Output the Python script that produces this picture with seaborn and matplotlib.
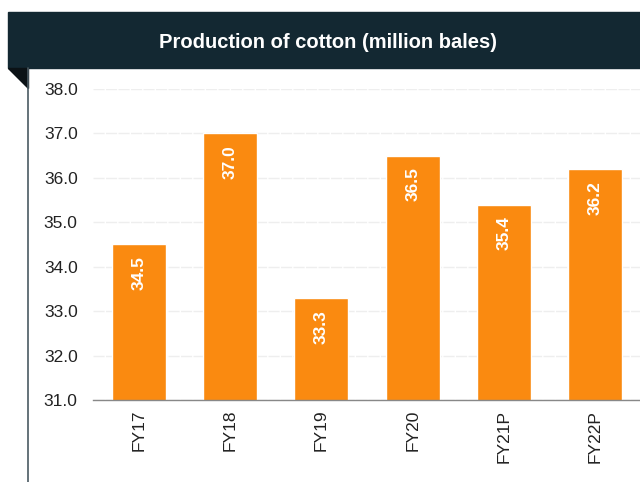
import matplotlib
matplotlib.use("Agg")
import matplotlib.pyplot as plt
import seaborn as sns
import pandas as pd
from matplotlib.patches import Rectangle, Polygon
from matplotlib.lines import Line2D

years = ["FY17", "FY18", "FY19", "FY20", "FY21P", "FY22P"]
production = [34.5, 37.0, 33.3, 36.5, 35.4, 36.2]
y_ticks = [31.0, 32.0, 33.0, 34.0, 35.0, 36.0, 37.0, 38.0]

df = pd.DataFrame({"year": years, "production": production})

sns.set_style("white")
plt.rcParams['font.family'] = ['Liberation Sans', 'DejaVu Sans']

fig = plt.figure(figsize=(6.4, 4.82), dpi=100)
W, H = 640, 482

# header band and decoration
fig.patches.append(Rectangle((8 / W, 1 - 68 / H), 632 / W, 56 / H,
                             transform=fig.transFigure, color="#132832", zorder=0))
fig.patches.append(Polygon([(8 / W, 1 - 68 / H), (28 / W, 1 - 68 / H), (28 / W, 1 - 88 / H)],
                           closed=True, transform=fig.transFigure, color="#0b1216", zorder=0))
fig.lines.append(Line2D([28 / W, 28 / W], [0, 1 - 68 / H], transform=fig.transFigure,
                        color="#4a5a62", lw=1.2))
fig.text(328 / W, 1 - 43 / H, "Production of cotton (million bales)", color="white",
         fontsize=14.5, fontweight="bold", ha="center", va="center")

ax = fig.add_axes([93 / W, 1 - 400 / H, 548 / W, 311 / H])
sns.barplot(data=df, x="year", y="production", color="#fa8a10", saturation=1,
            width=0.59, ax=ax, zorder=2)

ax.set_ylim(31, 38)
ax.set_xlim(-0.5, 5.5)
ax.set_yticks(y_ticks)
ax.set_yticklabels([f"{t:.1f}" for t in y_ticks], fontsize=12.5, color="#222222")
ax.set_xticks([i - 0.5 for i in range(len(years) + 1)], minor=False)
ax.set_xticklabels([])
ax.set_xticks(range(len(years)), minor=True)
ax.set_xticklabels(years, minor=True, rotation=90, fontsize=12.5, color="#222222")
ax.tick_params(axis="x", which="major", length=6, color="#888888", width=1, direction="out")
ax.tick_params(axis="x", which="minor", length=0, pad=7)
ax.tick_params(axis="y", length=0, pad=11)
ax.set_xlabel("")
ax.set_ylabel("")

for s in ["top", "right", "left"]:
    ax.spines[s].set_visible(False)
ax.spines["bottom"].set_color("#888888")
ax.spines["bottom"].set_linewidth(1)

ax.yaxis.grid(True, color="#eeeeee", linestyle=(0, (8, 1)), linewidth=1, zorder=0)
ax.set_axisbelow(True)

for i, v in enumerate(production):
    ax.text(i, v - 0.65, f"{v:.1f}", rotation=90, ha="center", va="center",
            color="white", fontsize=12.5, fontweight="bold", zorder=3)

fig.savefig("out.png", dpi=100)
